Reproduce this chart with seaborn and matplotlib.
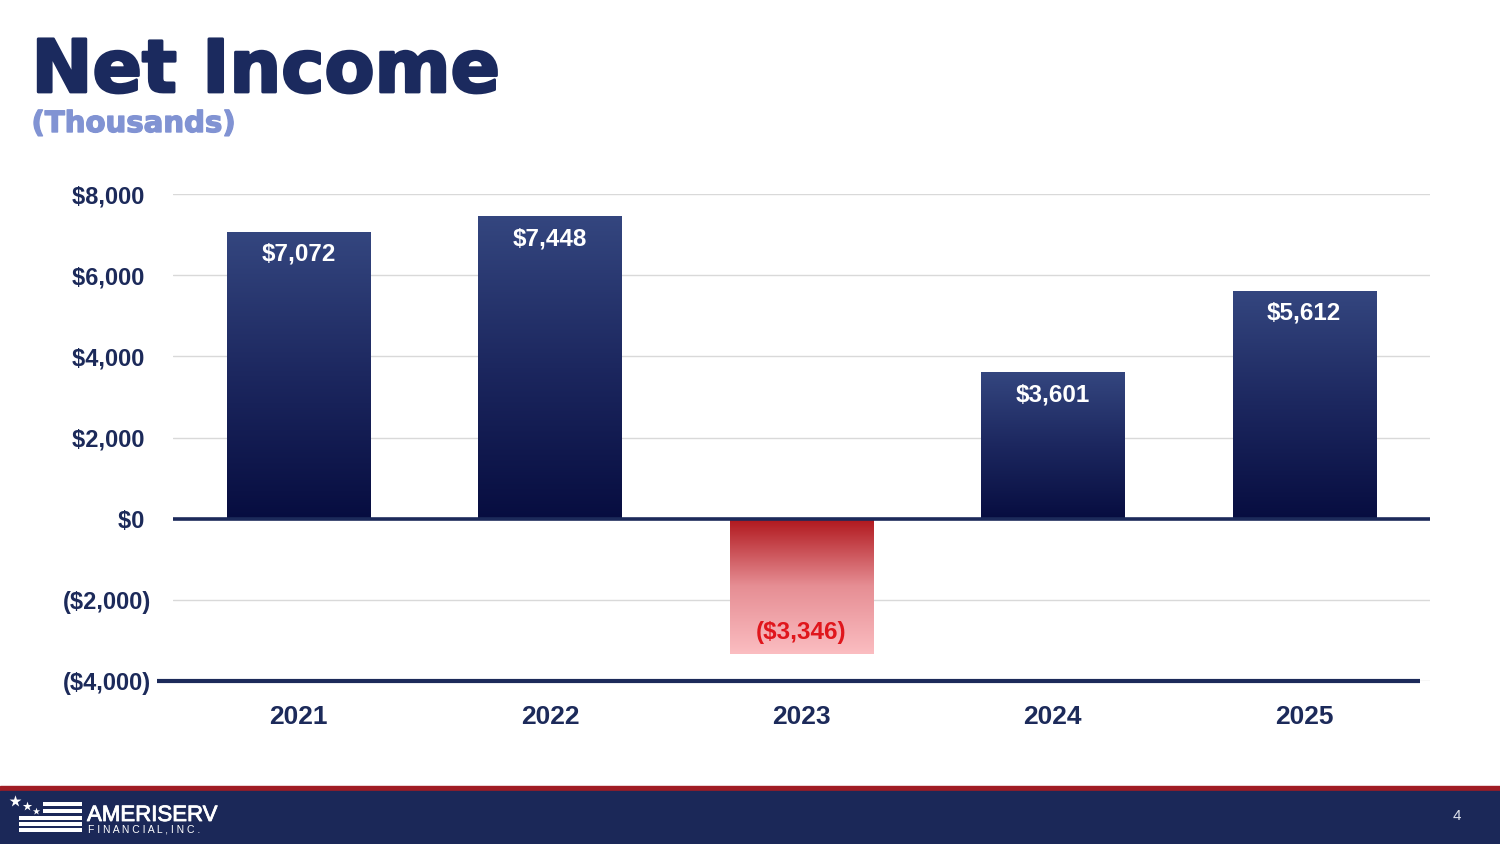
import numpy as np
import pandas as pd
import matplotlib
matplotlib.use("Agg")
import matplotlib.pyplot as plt
import matplotlib.patheffects as pe
from matplotlib.patches import Rectangle
from matplotlib.colors import LinearSegmentedColormap
from matplotlib.ticker import FuncFormatter
import seaborn as sns

# data (thousands)
years = ["2021", "2022", "2023", "2024", "2025"]
net_income = [7072, 7448, -3346, 3601, 5612]
y_ticks = [-4000, -2000, 0, 2000, 4000, 6000, 8000]

NAVY = "#1c2a5a"
TITLE_NAVY = "#1b2a5e"
RED_TEXT = "#e0161c"

sns.set_theme(style="white")
plt.rcParams["font.family"] = ["Liberation Sans", "DejaVu Sans"]

df = pd.DataFrame({"year": years, "income": net_income})

fig = plt.figure(figsize=(15, 8.44), dpi=100)
fig.patch.set_facecolor("white")
ax = fig.add_axes([0.1153, 0.1931, 0.8380, 0.5770])

sns.barplot(data=df, x="year", y="income", ax=ax, width=0.57,
            color=NAVY, saturation=1, errorbar=None)

# gradients on the bars
blue_cmap = LinearSegmentedColormap.from_list("blue", ["#070d40", "#1c275f", "#34467f"])
red_cmap = LinearSegmentedColormap.from_list("red", ["#fbbdc1", "#e68e94", "#b0161c"])
grad = np.linspace(0, 1, 256).reshape(-1, 1)
for patch, val in zip(ax.patches, df["income"]):
    bb = patch.get_bbox()
    x0, x1 = bb.x0, bb.x1
    y0, y1 = min(bb.y0, bb.y1), max(bb.y0, bb.y1)
    cmap = blue_cmap if val >= 0 else red_cmap
    ax.imshow(grad, extent=[x0, x1, y0, y1], origin="lower", cmap=cmap,
              aspect="auto", zorder=2, interpolation="bicubic")
    patch.set_facecolor("none")
    patch.set_edgecolor("none")

ax.set_xlim(-0.5, 4.5)
ax.set_ylim(-4000, 8000)
ax.set_yticks(y_ticks)


def money(v, pos=None):
    v = int(round(v))
    if v < 0:
        return f"(${-v:,})"
    return f"${v:,} "


ax.yaxis.set_major_formatter(FuncFormatter(money))
ax.set_xlabel("")
ax.set_ylabel("")
for s in ax.spines.values():
    s.set_visible(False)
ax.set_axisbelow(True)
ax.yaxis.grid(True, color="#d9d9d9", lw=1)
ax.xaxis.grid(False)
ax.tick_params(axis="y", length=0, pad=16, labelsize=17, labelcolor=NAVY)
ax.tick_params(axis="x", length=0, pad=17, labelsize=19, labelcolor=NAVY)
for lab in ax.get_xticklabels() + ax.get_yticklabels():
    lab.set_fontweight("bold")

# zero line and bottom line
ax.axhline(0, color=NAVY, lw=2.6, zorder=4)
ax.plot([-0.5 - 0.064, 4.5 - 0.04], [-4000, -4000], color=NAVY, lw=3,
        clip_on=False, zorder=4, solid_capstyle="butt")

# value labels
for patch, val in zip(ax.patches, df["income"]):
    cx = patch.get_x() + patch.get_width() / 2
    if val >= 0:
        ax.annotate(money(val).strip(), (cx, val), xytext=(0, -16),
                    textcoords="offset points", ha="center", va="center",
                    color="white", fontsize=17.5, fontweight="bold", zorder=5)
    else:
        ax.annotate(money(val), (cx, val), xytext=(0, 16),
                    textcoords="offset points", ha="center", va="center",
                    color=RED_TEXT, fontsize=17.5, fontweight="bold", zorder=5)

# title
fig.text(0.021, 1 - 92 / 844, "Net Income", family="DejaVu Sans",
         fontweight="bold", fontsize=52.5, color=TITLE_NAVY, va="baseline",
         path_effects=[pe.withStroke(linewidth=2, foreground=TITLE_NAVY)])
fig.text(0.021, 1 - 132 / 844, "(Thousands)", family="DejaVu Sans",
         fontweight="bold", fontsize=21, color="#8193d3", va="baseline",
         path_effects=[pe.withStroke(linewidth=1, foreground="#8193d3")])

# footer band with logo
deco = fig.add_axes([0, 0, 1, 1], zorder=-1)
deco.set_xlim(0, 1500)
deco.set_ylim(844, 0)
deco.axis("off")
deco.add_patch(Rectangle((0, 786), 1500, 5, color="#a01c24"))
deco.add_patch(Rectangle((0, 791), 1500, 53, color="#1b2858"))
for (sx, sy, ss) in [(15, 801, 80), (27, 806, 50), (36, 811, 30)]:
    deco.scatter(sx, sy, marker="*", s=ss, color="white", linewidths=0)
for (rx, ry, rw, rh) in [(43, 802, 39, 3.5), (43, 809, 39, 3.5), (19, 816, 63, 3.5),
                         (19, 822, 63, 3.5), (19, 828, 63, 3.5)]:
    deco.add_patch(Rectangle((rx, ry), rw, rh, color="white", lw=0))
deco.text(87, 821, "AMERISERV", color="white", fontsize=16, va="baseline",
          ha="left", path_effects=[pe.withStroke(linewidth=0.6, foreground="white")])
deco.text(88, 832, "F I N A N C I A L , I N C .", color="white", fontsize=7.5,
          va="baseline", ha="left")
deco.text(1457, 816, "4", color="#dfe3ee", fontsize=11, ha="center", va="center")

fig.savefig("out.png", dpi=100)
